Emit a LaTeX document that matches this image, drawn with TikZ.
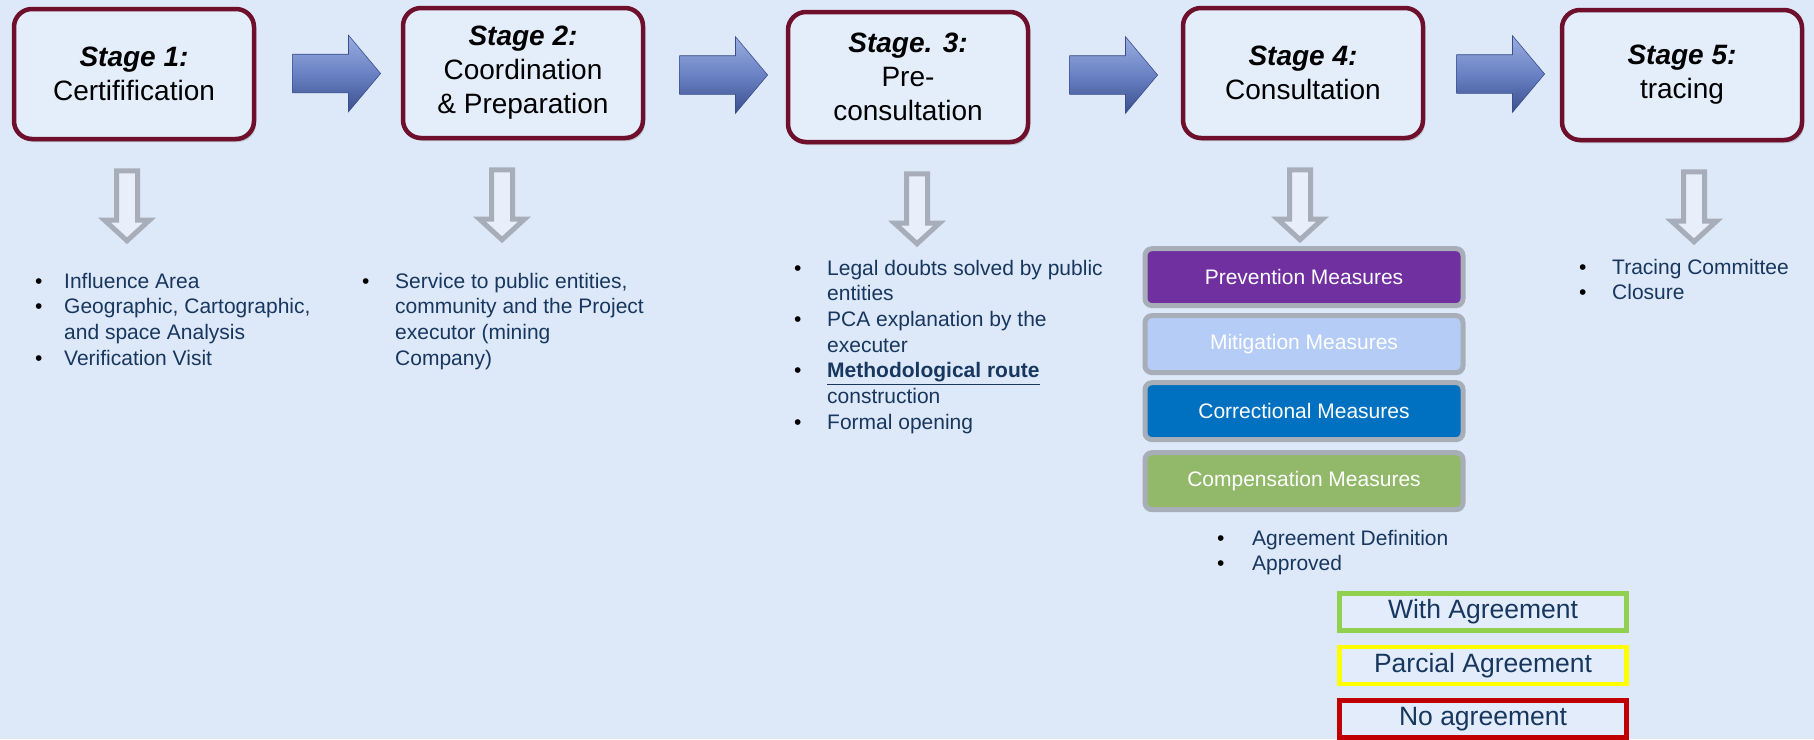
\documentclass[tikz,border=0pt]{standalone}
\usepackage{fontspec}
\setmainfont{Liberation Sans}
\usetikzlibrary{positioning,shapes.arrows,shadows,calc}

\definecolor{bgblue}{HTML}{DDE8F8}
\definecolor{stageframe}{HTML}{6E0F2C}
\definecolor{stagefill}{HTML}{E4EDFA}
\definecolor{arrowtop}{HTML}{9AADDF}
\definecolor{arrowmid}{HTML}{6A82C4}
\definecolor{arrowbot}{HTML}{3A4E8C}
\definecolor{hollowgray}{HTML}{A7AEBA}
\definecolor{hollowfill}{HTML}{E8EFFB}
\definecolor{navytext}{HTML}{17375E}
\definecolor{measgray}{HTML}{A8AEB8}
\definecolor{prevfill}{HTML}{7030A0}
\definecolor{mitifill}{HTML}{B4CCF6}
\definecolor{corrfill}{HTML}{0070C0}
\definecolor{compfill}{HTML}{92B96A}
\definecolor{agreegreen}{HTML}{92D050}
\definecolor{agreeyellow}{HTML}{FFFF00}
\definecolor{agreered}{HTML}{C00000}
\definecolor{agreefill}{HTML}{E2ECFB}

\newcommand{\stagetitle}[1]{\textbf{\textit{#1}}}
\newcommand{\bl}{\textcolor{black}{\textbullet}}

\tikzset{
	stagebox/.style={draw=stageframe, line width=4.5pt, fill=stagefill, rounded corners=18pt,
		minimum width=240pt, minimum height=130pt, align=center, font=\fontsize{28}{34}\selectfont,
		drop shadow={opacity=0.35, shadow xshift=2pt, shadow yshift=-3pt}},
	bluearrow/.style={single arrow, draw=arrowbot, line width=0.6pt, top color=arrowtop,
		bottom color=arrowbot, middle color=arrowmid, inner xsep=0pt, inner ysep=19pt,
		minimum height=88pt, single arrow head extend=19pt, single arrow tip angle=100},
	hollowarrow/.style={single arrow, shape border rotate=270, draw=hollowgray, fill=hollowfill,
		line width=5pt, inner sep=8pt, minimum height=70pt,
		single arrow head extend=12pt, single arrow tip angle=95},
	blist/.style={anchor=north west, inner sep=0pt, text=navytext, font=\fontsize{21}{25.7}\selectfont},
	measbox/.style={draw=measgray, line width=5pt, rounded corners=7pt, minimum width=318pt,
		minimum height=57pt, text=white, font=\fontsize{21}{25}\selectfont},
	agreebox/.style={fill=agreefill, line width=4.5pt, minimum width=287pt, minimum height=37pt,
		text=navytext, font=\fontsize{26.5}{30}\selectfont}
}

\begin{document}
\begin{tikzpicture}[x=1pt, y=-1pt]
	\useasboundingbox (0,0) rectangle (1814,739);
	\fill[bgblue] (0,0) rectangle (1814,739);

	% stages
	\node[stagebox] (s1) at (134,74) {\stagetitle{Stage 1:}\\Certifification};
	\node[stagebox] (s2) at (523,73) {\stagetitle{Stage 2:}\\Coordination\\\& Preparation};
	\node[stagebox] (s3) at (908,77) {\stagetitle{Stage. 3:}\\Pre-\\consultation};
	\node[stagebox] (s4) at (1303,73) {\stagetitle{Stage 4:}\\Consultation};
	\node[stagebox] (s5) at (1682,75) {\stagetitle{Stage 5:}\\tracing};

	\foreach \a/\b in {1/2, 2/3, 3/4, 4/5}{
		\node[bluearrow] (a\a\b) at ($(s\a.east)!0.5!(s\b.west)$) {};
	}

	\foreach \n/\dx in {1/-7, 2/-21, 3/9, 4/-3, 5/12}{
		\node[hollowarrow, below=27pt of s\n, xshift=\dx pt] (d\n) {};
	}

	% lists under the stages
	\node[blist] (l1) at (35,270) {\begin{tabular}{@{}p{29pt}@{}l@{}}
		\bl & Influence Area\\
		\bl & Geographic, Cartographic,\\
		    & and space Analysis\\
		\bl & Verification Visit
	\end{tabular}};
	\node[blist] (l2) at (362,270) {\begin{tabular}{@{}p{33pt}@{}l@{}}
		\bl & Service to public entities,\\
		    & community and the Project\\
		    & executor (mining\\
		    & Company)
	\end{tabular}};
	\node[blist] (l3) at (794,257) {\begin{tabular}{@{}p{33pt}@{}l@{}}
		\bl & Legal doubts solved by public\\
		    & entities\\
		\bl & PCA explanation by the\\
		    & executer\\
		\bl & \underline{\textbf{Methodological route}}\\
		    & construction\\
		\bl & Formal opening
	\end{tabular}};
	\node[blist] (l5) at (1579,256) {\begin{tabular}{@{}p{33pt}@{}l@{}}
		\bl & Tracing Committee\\
		\bl & Closure
	\end{tabular}};

	% measures
	\node[measbox, fill=prevfill, below=3pt of d4, xshift=4pt] (m1) {Prevention Measures};
	\node[measbox, fill=mitifill, below=5pt of m1] (m2) {Mitigation Measures};
	\node[measbox, fill=corrfill, below=5pt of m2] (m3) {Correctional Measures};
	\node[measbox, fill=compfill, below=8pt of m3] (m4) {Compensation Measures};

	\node[blist] (l4) at (1217,527) {\begin{tabular}{@{}p{35pt}@{}l@{}}
		\bl & Agreement Definition\\
		\bl & Approved
	\end{tabular}};

	% agreement results
	\node[agreebox, draw=agreegreen] (g1) at (1483,612) {With Agreement};
	\node[agreebox, draw=agreeyellow, below=12pt of g1] (g2) {Parcial Agreement};
	\node[agreebox, draw=agreered, below=12pt of g2] (g3) {No agreement};
\end{tikzpicture}
\end{document}
